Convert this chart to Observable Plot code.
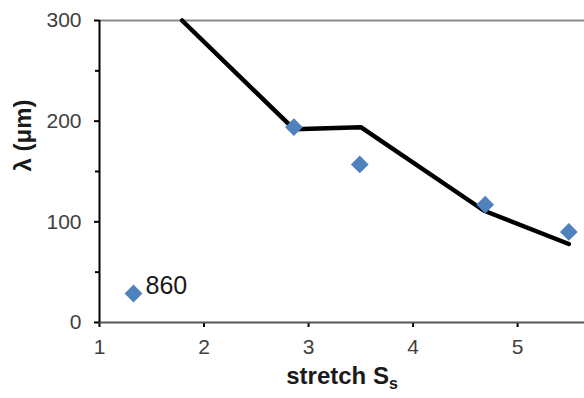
<!DOCTYPE html>
<html><head><meta charset="utf-8">
<script src="https://cdn.jsdelivr.net/npm/d3@7"></script>
<script src="https://cdn.jsdelivr.net/npm/@observablehq/plot@0.6"></script>
<style>body{margin:0;background:#fff}</style>
</head><body><div id="chart"></div>
<script>
// fitted curve (black line)
const fitStretch = [1.79, 2.86, 3.50, 4.68, 5.49];
const fitLambda = [300, 192, 194, 111, 78];
// measured points (series "860")
const measStretch = [2.86, 3.49, 4.69, 5.49];
const measLambda = [194, 157, 117, 90];
const seriesName = "860";
const xTicks = [1, 2, 3, 4, 5];
const yTicks = [0, 100, 200, 300];
const yMinorTicks = [50, 150, 250];
const xLabel = "stretch S";
const xLabelSub = "s";
const yLabel = "λ (μm)";

const fitData = fitStretch.map((x, i) => ({x, y: fitLambda[i]}));
const measData = measStretch.map((x, i) => ({x, y: measLambda[i]}));

const font = "'Liberation Sans', Arial, Helvetica, sans-serif";
const plot = Plot.plot({
  width: 584, height: 398,
  marginLeft: 99, marginRight: 0, marginTop: 20, marginBottom: 76,
  style: {fontFamily: font, background: "#fff", color: "#000"},
  x: {domain: [1, 5.64]},
  y: {domain: [0, 300]},
  marks: [
    Plot.ruleY([300], {stroke: "#8a8a8a", strokeWidth: 2}),
    Plot.axisY(yTicks, {tickSize: 5, tickPadding: 13, fontSize: 21, fill: "#404040", stroke: "#000", strokeWidth: 2, label: null}),
    Plot.axisY(yMinorTicks, {tickSize: 4, tickFormat: () => "", stroke: "#000", strokeWidth: 2, label: null}),
    Plot.axisX(xTicks, {tickSize: 5, tickPadding: 12, fontSize: 21, fill: "#404040", stroke: "#000", strokeWidth: 2, label: null}),
    Plot.ruleY([0], {stroke: "#555", strokeWidth: 2}),
    Plot.ruleX([1], {stroke: "#000", strokeWidth: 2}),
    Plot.line(fitData, {x: "x", y: "y", stroke: "#000", strokeWidth: 4.5, strokeLinejoin: "miter"}),
    Plot.dot(measData, {x: "x", y: "y", symbol: "diamond2", r: 8, fill: "#4F81BD", stroke: "none"}),
    Plot.dot([seriesName], {frameAnchor: "bottom-left", dx: 34, dy: -29, symbol: "diamond2", r: 8, fill: "#4F81BD", stroke: "none"}),
    Plot.text([seriesName], {text: d => d, frameAnchor: "bottom-left", dx: 46, dy: -29, textAnchor: "start", fontSize: 25, fill: "#1a1a1a"}),
    Plot.text([yLabel], {text: d => d, frameAnchor: "left", dx: -76, rotate: -90, fontWeight: "bold", fontSize: 24, fill: "#1a1a1a"}),
    Plot.text([xLabel], {text: d => d, frameAnchor: "bottom", dy: 61, fontWeight: "bold", fontSize: 24, fill: "#1a1a1a"})
  ]
});
d3.select(plot).selectAll("text").filter(function() { return this.textContent === xLabel; })
  .append("tspan").attr("font-size", 16).attr("dy", 5).text(xLabelSub);
document.getElementById("chart").appendChild(plot);
</script>
</body></html>
